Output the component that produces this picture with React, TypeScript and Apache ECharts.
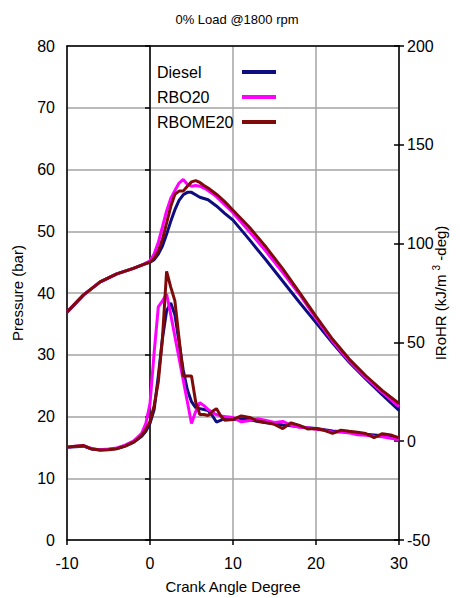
import React, { useEffect, useRef } from "react";
import * as echarts from "echarts";

const FONT = "'Liberation Sans', Arial, sans-serif";

const TITLE = "0% Load @1800 rpm";
const SERIES_NAMES = ["Diesel", "RBO20", "RBOME20"];
const COLORS = ["#0d0d80", "#ff00ff", "#7f0a0a"];

// Crank angle grid for cylinder pressure (deg)
const CA_P = [-10, -8, -6, -4, -2, -1, 0, 0.5, 1, 1.5, 2, 2.5, 3, 3.5, 4, 4.5, 5, 5.5, 6, 6.5, 7, 8, 9, 10, 12, 14, 16, 18, 20, 22, 24, 26, 28, 30];
// Pressure (bar)
const P_DIESEL = [36.9, 39.7, 41.8, 43.1, 44.0, 44.5, 45.0, 45.4, 46.3, 47.6, 49.5, 51.6, 53.5, 55.0, 55.9, 56.3, 56.3, 55.9, 55.5, 55.3, 55.1, 54.1, 52.9, 51.8, 48.6, 45.3, 41.9, 38.5, 35.2, 31.9, 28.8, 26.1, 23.5, 21.0];
const P_RBO20 = [36.9, 39.7, 41.8, 43.1, 44.0, 44.5, 45.2, 46.3, 48.2, 50.7, 53.3, 55.3, 56.6, 57.8, 58.4, 57.6, 57.3, 57.4, 57.3, 57.0, 56.6, 55.6, 54.3, 53.0, 49.9, 46.7, 43.3, 39.8, 35.9, 32.2, 29.0, 26.3, 23.9, 21.6];
const P_RBOME20 = [36.9, 39.7, 41.8, 43.1, 44.0, 44.5, 45.0, 45.6, 46.8, 48.7, 51.3, 54.0, 56.0, 56.5, 56.5, 57.3, 58.0, 58.2, 57.9, 57.4, 57.0, 56.0, 54.8, 53.4, 50.6, 47.4, 43.9, 40.1, 36.2, 32.5, 29.3, 26.6, 24.2, 22.1];

// Crank angle grid for heat release rate (deg)
const CA_H = [-10, -9, -8, -7, -6, -5, -4, -3, -2, -1.5, -1, -0.5, 0, 0.5, 1, 1.5, 2, 2.5, 3, 3.5, 4, 4.5, 5, 5.5, 6, 6.5, 7, 7.5, 8, 8.5, 9, 10, 11, 12, 13, 14, 15, 16, 17, 18, 19, 20, 21, 22, 23, 24, 25, 26, 27, 28, 29, 30];
// IRoHR (kJ/m3-deg)
const H_DIESEL = [-3, -2.8, -2.5, -4, -4.5, -4.2, -3.7, -2.5, -0.6, 1, 2.5, 5, 9, 16, 33, 52, 66, 70, 64, 50, 36, 26, 20, 17, 16.5, 16, 15.5, 13, 9.7, 10.5, 11.6, 11, 11.2, 10.8, 10, 9.3, 8.8, 8.2, 7.8, 7.3, 6.8, 6.4, 5.8, 5.2, 4.8, 4.4, 4, 3.5, 3.2, 2.8, 2.3, 1.8];
const H_RBO20 = [-3, -2.6, -2.3, -3.8, -4.3, -4, -3.4, -2, 0, 2, 4, 9, 19, 45, 68, 71, 74.5, 64, 53, 42, 31, 20, 9, 15, 19.5, 18, 16, 14.5, 13.5, 12.8, 12.5, 12, 9.8, 10.5, 11.4, 10.5, 9.5, 10, 8, 7, 6.8, 6, 5.5, 4.5, 4.8, 4.2, 3.3, 3, 2.5, 2.2, 1.5, 0.8];
const H_RBOME20 = [-3, -2.6, -2.2, -4, -4.5, -4.3, -3.8, -2.5, -0.5, 1, 3, 6, 10, 18, 30, 52, 86, 78, 71, 52, 33, 33, 33, 20, 13.5, 13.5, 13, 15, 16.5, 13, 10.6, 11, 12.8, 12, 10.2, 9.5, 8.5, 6.4, 9.3, 8, 6.2, 6.4, 5.5, 4, 5.6, 5, 4.5, 3.9, 1.8, 3.8, 3.2, 1.7];

const P_SERIES = [P_DIESEL, P_RBO20, P_RBOME20];
const H_SERIES = [H_DIESEL, H_RBO20, H_RBOME20];

const AXIS_LINE = { color: "#000", width: 1.5 };
const GRID_LINE = { color: "#a3a3a3", width: 1.5 };

export default function App() {
  const ref = useRef<HTMLDivElement>(null);

  useEffect(() => {
    document.body.style.margin = "0";
    if (!ref.current) return;
    const chart = echarts.init(ref.current, null, { renderer: "svg" });

    const series: any[] = [];
    SERIES_NAMES.forEach((name, i) => {
      series.push({
        name,
        type: "line",
        xAxisIndex: 0,
        yAxisIndex: 0,
        symbol: "none",
        showSymbol: false,
        lineStyle: { color: COLORS[i], width: 3 },
        itemStyle: { color: COLORS[i] },
        data: CA_P.map((x, k) => [x, P_SERIES[i][k]]),
        z: 3 + i,
      });
    });
    SERIES_NAMES.forEach((name, i) => {
      series.push({
        name,
        type: "line",
        xAxisIndex: 0,
        yAxisIndex: 1,
        symbol: "none",
        showSymbol: false,
        lineStyle: { color: COLORS[i], width: 3 },
        itemStyle: { color: COLORS[i] },
        data: CA_H.map((x, k) => [x, H_SERIES[i][k]]),
        z: 3 + i,
      });
    });

    const option: any = {
      animation: false,
      textStyle: { fontFamily: FONT },
      title: {
        text: TITLE,
        left: 232,
        top: 8,
        textAlign: "center",
        textStyle: { fontSize: 13, fontWeight: "normal", color: "#000", fontFamily: FONT },
      },
      legend: {
        data: SERIES_NAMES,
        orient: "vertical",
        left: 157,
        top: 64,
        padding: 0,
        align: "right",
        itemWidth: 34,
        itemHeight: 16,
        itemGap: 9,
        itemStyle: { opacity: 0 },
        lineStyle: { width: 4 },
        formatter: (name: string) => `{t|${name}}`,
        textStyle: {
          color: "#000",
          fontSize: 16,
          fontFamily: FONT,
          rich: { t: { width: 80, align: "left", fontSize: 16, color: "#000", fontFamily: FONT } },
        },
      },
      grid: { left: 67, right: 61, top: 46, bottom: 58, outerBoundsMode: "none", containLabel: false },
      xAxis: [
        {
          type: "value",
          min: -10,
          max: 30,
          interval: 10,
          name: "Crank Angle Degree",
          nameLocation: "middle",
          nameGap: 39,
          nameTextStyle: { fontSize: 15, color: "#000", fontFamily: FONT },
          axisLine: { onZero: false, lineStyle: AXIS_LINE },
          axisTick: { show: true, length: 5, lineStyle: AXIS_LINE },
          axisLabel: { fontSize: 16, color: "#000", margin: 15, fontFamily: FONT },
          splitLine: { show: true, lineStyle: GRID_LINE },
        },
        {
          type: "value",
          position: "top",
          min: -10,
          max: 30,
          interval: 10,
          axisLine: { show: true, onZero: false, lineStyle: AXIS_LINE },
          axisTick: { show: false },
          axisLabel: { show: false },
          splitLine: { show: false },
        },
      ],
      yAxis: [
        {
          type: "value",
          position: "left",
          min: 0,
          max: 80,
          interval: 10,
          name: "Pressure (bar)",
          nameLocation: "middle",
          nameRotate: 90,
          nameGap: 42,
          nameTextStyle: { fontSize: 15, color: "#000", fontFamily: FONT },
          axisLine: { show: true, onZero: false, lineStyle: AXIS_LINE },
          axisTick: { show: false },
          axisLabel: { fontSize: 16, color: "#000", margin: 12, fontFamily: FONT },
          splitLine: { show: true, lineStyle: GRID_LINE },
        },
        {
          type: "value",
          position: "right",
          min: -50,
          max: 200,
          interval: 50,
          name: "IRoHR (kJ/m {s|3} -deg)",
          nameLocation: "middle",
          nameRotate: 90,
          nameGap: 32,
          nameMoveOverlap: false,
          nameTextStyle: {
            fontSize: 15,
            color: "#000",
            fontFamily: FONT,
            rich: { s: { fontSize: 10, color: "#000", fontFamily: FONT, padding: [0, 0, 9, 0] } },
          },
          axisLine: { show: true, onZero: false, lineStyle: AXIS_LINE },
          axisTick: { show: true, length: 5, lineStyle: AXIS_LINE },
          axisLabel: { fontSize: 16, color: "#000", margin: 8, fontFamily: FONT },
          splitLine: { show: false },
        },
        {
          type: "value",
          position: "left",
          min: 0,
          max: 80,
          interval: 10,
          axisLine: { show: true, onZero: true, onZeroAxisIndex: 0, lineStyle: AXIS_LINE },
          axisTick: { show: true, length: 5, lineStyle: AXIS_LINE },
          axisLabel: { show: false },
          splitLine: { show: false },
        },
        {
          type: "value",
          position: "right",
          min: -50,
          max: 200,
          interval: 50,
          axisLine: { show: false, onZero: false },
          axisTick: { show: true, inside: true, length: 5, lineStyle: AXIS_LINE },
          axisLabel: { show: false },
          splitLine: { show: false },
        },
      ],
      series,
    };

    chart.setOption(option);
    return () => chart.dispose();
  }, []);

  return <div ref={ref} style={{ width: 460, height: 598 }} />;
}
